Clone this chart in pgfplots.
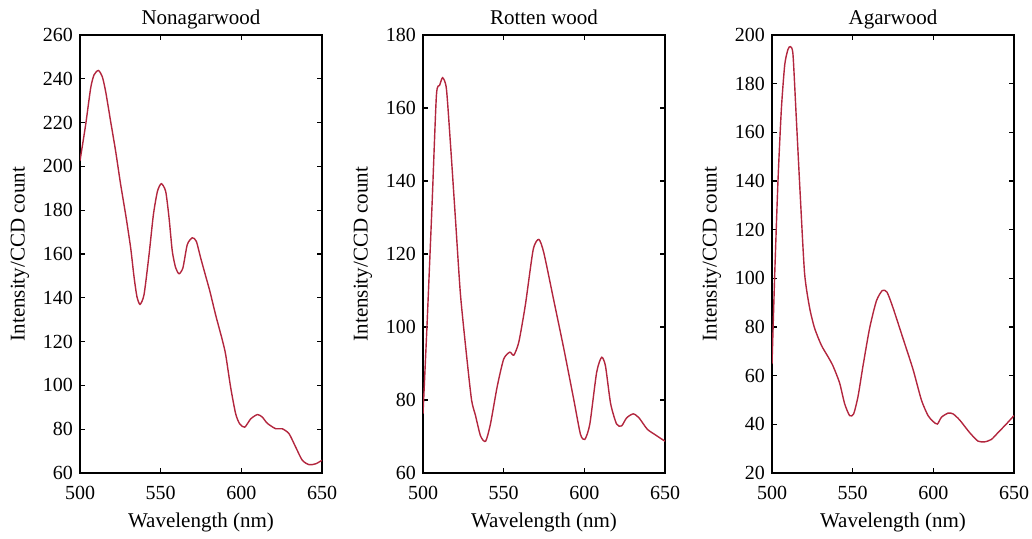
\documentclass[border=0pt]{standalone}
\usepackage{fontspec}
\setmainfont{Liberation Serif}
\usepackage{pgfplots}
\pgfplotsset{compat=1.18}

\definecolor{spec}{RGB}{178,38,62}

\pgfplotsset{
  panel/.style={
    scale only axis,
    width=121pt, height=219pt,
    xmin=500, xmax=650,
    xtick={500,550,600,650},
    tick align=inside,
    major tick length=2.5pt,
    axis line style={line width=0.6pt},
    every tick/.style={black, line width=0.6pt},
    tick label style={font=\fontsize{10}{12}\selectfont},
    xticklabel style={yshift=-3pt},
    label style={font=\fontsize{10.5}{12}\selectfont},
    every axis title shift=0pt,
    title style={font=\fontsize{10.5}{12}\selectfont, at={(axis description cs:0.5,1.023)}, anchor=base},
    /pgf/number format/assume math mode=true,
    xlabel={Wavelength (nm)},
    ylabel={Intensity/CCD count},
    xlabel style={at={(axis description cs:0.5,-0.114)}, anchor=center},
    ylabel style={at={(axis description cs:-0.248,0.5)}, anchor=center},
  },
  spec/.style={color=spec, line width=0.7pt, smooth, tension=0.4, mark=none},
}

\begin{document}
\begin{tikzpicture}
\useasboundingbox (0,0) rectangle (516pt,269.5pt);

% Nonagarwood
\begin{axis}[panel, at={(40pt,33pt)}, anchor=south west,
  title={Nonagarwood}, ymin=60, ymax=260, ytick={60,80,...,260}]
\addplot[spec] coordinates {
  (500,202.6) (503.5,219) (506.6,235.7) (508.7,241.8) (511.4,243.8)
  (513.8,241) (515.9,234.2) (519,220.5) (522.1,206.9) (525.2,191.7)
  (528.3,178) (531.4,162.8) (533.5,149.5) (535.3,140.5) (537.2,137)
  (539.7,141.5) (542.8,159.7) (545.5,178) (548,188.6) (550.4,192.1)
  (553.1,188.6) (555.2,176.5) (557.2,161.3) (559.3,153.7) (561.4,151)
  (563.8,153.7) (566.5,164.3) (569.6,167.4) (572.1,165.8) (574.8,158.2)
  (577.9,149.9) (580.5,143) (584.1,132.1) (588.3,120.5) (590.3,114)
  (593.4,99) (596.5,87) (599,82.4) (602.1,80.9) (605.8,84.7)
  (610,86.7) (613,85.5) (616.1,82.7) (621.3,80.2) (625.4,80.2)
  (629.6,77.9) (633.7,71.8) (637.8,65.8) (642,63.8) (646.1,64.2) (650,65.8)
};
\end{axis}

% Rotten wood
\begin{axis}[panel, at={(211.5pt,33pt)}, anchor=south west,
  title={Rotten wood}, ymin=60, ymax=180, ytick={60,80,...,180}]
\addplot[spec] coordinates {
  (500,76.2) (502.5,100.6) (505.6,133.4) (508.3,163.4) (510.3,166.2)
  (512.2,168.3) (514.5,165.3) (517,150.3) (520.1,129.7) (523.2,109)
  (527,92.2) (530.1,80) (532.5,75.8) (535.7,70.1) (538.8,68.7)
  (541.8,73.4) (546,83.7) (550,91.2) (553.8,93.1) (556.3,92.3)
  (559.4,95.9) (563.5,106.2) (568.3,121.2) (571.8,124) (574.9,120.3)
  (581.1,107.2) (587.3,94) (593.5,80) (597.6,70.6) (600.3,69.2)
  (603.4,73.4) (607.6,87.5) (610.7,91.7) (613.1,89.3) (616.3,79)
  (620,73.4) (623.1,72.9) (626.2,75.1) (630.3,76.2) (633.9,75.1)
  (639,72) (644.2,70.4) (650,68.7)
};
\end{axis}

% Agarwood
\begin{axis}[panel, at={(386pt,33pt)}, anchor=south west,
  title={Agarwood}, ymin=20, ymax=200, ytick={20,40,...,200}]
\addplot[spec] coordinates {
  (500,64.7) (501.7,102) (503.7,140) (505.8,169.5) (507.9,187.8)
  (509.9,194.1) (511.4,195.2) (513,192) (515.1,165.3) (517.6,132.9)
  (520.2,102) (523.3,87.9) (526.4,79.5) (530.6,72.5) (534.7,67.8)
  (537.8,64) (541.9,57) (545,48.5) (548.1,43.6) (550.6,44.3)
  (553.3,51.4) (556.4,64) (560.5,79.5) (564.7,90.7) (568.4,95)
  (571.3,94.3) (575,87.9) (581.2,75.3) (587.4,62.6) (592.6,50)
  (596.7,43.6) (599.8,41.2) (602.5,40.1) (605,42.9) (609.1,44.6)
  (612.2,44.3) (616.3,41.8) (622.5,36.6) (627.7,33.1) (631.8,32.8)
  (636,33.8) (640.1,36.6) (645.2,40.1) (650,43.6)
};
\end{axis}
\end{tikzpicture}
\end{document}
